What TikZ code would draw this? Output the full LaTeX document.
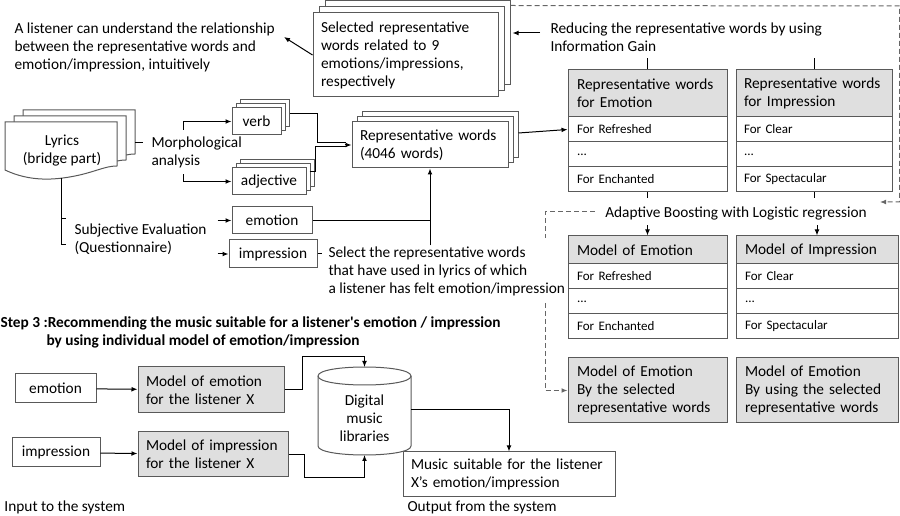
\documentclass[tikz,border=0pt]{standalone}
\usepackage{fontspec}
\setmainfont{Carlito}
\usetikzlibrary{arrows.meta,shadows,calc}

\tikzset{every picture/.style={line width=0.75pt}}
\tikzset{
  arr/.style={-{Latex[length=4.5pt,width=3.6pt]}},
  dsh/.style={draw=black!60, dash pattern={on 3.75pt off 2.25pt}},
  box/.style={draw=black!65, fill=white, inner sep=0pt, font=\fontsize{11.5}{13.5}\selectfont},
  gbox/.style={box, fill=gray!25, align=left, inner xsep=6.75pt},
  cell/.style={box, align=left, inner xsep=6.75pt, font=\fontsize{9.75}{11}\selectfont, minimum height=18.75pt},
  lbl/.style={inner sep=0.75pt, align=left, font=\fontsize{11.5}{13.5}\selectfont},
  pile/.style={double copy shadow={shadow xshift=#1, shadow yshift=#1}},
}

\begin{document}
\begin{tikzpicture}[x=0.75pt,y=0.75pt,yscale=-1,xscale=1]
	\path[use as bounding box] (0,0) rectangle (900,516);
	%Shape: Document stack (lyrics)
	\foreach \dx/\dy in {18/-12, 9/-6, 0/0}
		\draw[draw=black!65, fill=white, shift={(\dx,\dy)}] (5,122) -- (117,122) -- (117,166) .. controls (105,166) and (95,172) .. (75,176) .. controls (55,180) and (30,182) .. (5,170) -- cycle;
	% Text Node
	\node[lbl, align=center] (lyrics) at (62,151) {Lyrics\\(bridge part)};
	\node[lbl, anchor=west] (morph) at (150,152) {Morphological\\analysis};
	\node[lbl, anchor=west] (subj) at (73,239) {Subjective Evaluation\\(Questionnaire)};
	\node[lbl, anchor=west] (understand) at (13,47.5) {A listener can understand the relationship\\between the representative words and\\emotion/impression, intuitively};
	\node[lbl, anchor=west] (reduce) at (549,37) {Reducing the representative words by using\\Information Gain};
	\node[lbl, anchor=west] (select) at (327,271.5) {Select the representative words\\that have used in lyrics of which\\a listener has felt emotion/impression};
	\node[lbl] (boost) at (736,213) {Adaptive Boosting with Logistic regression};

	%Shape: Rectangle stacks
	\node[box, align=left, inner xsep=6pt, text width=126.75pt, minimum height=63pt, pile=4.5pt] (sel) at (405.5,55) {Selected representative\\words related to 9\\emotions/impressions,\\respectively};
	\node[box, align=left, inner xsep=6pt, text width=105pt, minimum height=34.5pt, pile=3.75pt] (rep) at (430,145) {Representative words\\(4046 words)};
	\node[box, minimum width=36.75pt, minimum height=20.25pt, pile=3pt] (verb) at (256.5,121.5) {verb};
	\node[box, minimum width=55.5pt, minimum height=20.25pt, pile=3pt] (adj) at (269,181.5) {adjective};
	%Shape: Rectangle
	\node[box, minimum width=60pt, minimum height=20.25pt] (emo) at (272,220.5) {emotion};
	\node[box, minimum width=66pt, minimum height=21pt] (imp) at (273,254) {impression};

	%Shape: Tables
	\node[gbox, text width=105.75pt, minimum height=35.25pt] (repEH) at (647.5,93.5) {Representative words\\for Emotion};
	\node[cell, text width=105.75pt] (repE1) at (647.5,129.5) {For Refreshed};
	\node[cell, text width=105.75pt] (repE2) at (647.5,154.5) {...};
	\node[cell, text width=105.75pt] (repE3) at (647.5,179.5) {For Enchanted};
	\node[gbox, inner xsep=6pt, text width=105pt, minimum height=35.25pt] (repIH) at (814,93.5) {Representative words\\for Impression};
	\node[cell, inner xsep=6pt, text width=105pt] (repI1) at (814,129.5) {For Clear};
	\node[cell, inner xsep=6pt, text width=105pt] (repI2) at (814,154.5) {...};
	\node[cell, inner xsep=6pt, text width=105pt] (repI3) at (814,179.5) {For Spectacular};

	\node[gbox, text width=105.75pt, minimum height=21pt] (modEH) at (647.5,250) {Model of Emotion};
	\node[cell, text width=105.75pt] (modE1) at (647.5,276.5) {For Refreshed};
	\node[cell, text width=105.75pt] (modE2) at (647.5,301.5) {...};
	\node[cell, text width=105.75pt] (modE3) at (647.5,326.5) {For Enchanted};
	\node[gbox, text width=108pt, minimum height=21pt] (modIH) at (817,250) {Model of Impression};
	\node[cell, text width=108pt] (modI1) at (817,276.5) {For Clear};
	\node[cell, text width=108pt] (modI2) at (817,301.5) {...};
	\node[cell, text width=108pt] (modI3) at (817,326.5) {For Spectacular};

	\node[gbox, text width=105.75pt, minimum height=48.75pt] (selE) at (647.5,390.5) {Model of Emotion\\By the selected\\representative words};
	\node[gbox, text width=108pt, minimum height=48.75pt] (selI) at (817,390.5) {Model of Emotion\\By using the selected\\representative words};

	% Step 3
	\node[lbl, anchor=west, font=\fontsize{11.5}{13}\selectfont\bfseries] (step3a) at (-1,323) {Step 3 :Recommending the music suitable for a listener\textquotesingle s emotion / impression};
	\node[lbl, anchor=west, font=\fontsize{11.5}{13}\selectfont\bfseries] (step3b) at (45,341) {by using individual model of emotion/impression};

	\node[box, minimum width=60.75pt, minimum height=21.75pt] (emoIn) at (55.5,388.5) {emotion};
	\node[box, minimum width=66pt, minimum height=21.75pt] (impIn) at (56,452.5) {impression};
	\node[gbox, inner xsep=6pt, text width=97.5pt, minimum height=34.5pt] (emoX) at (211,390) {Model of emotion\\for the listener X};
	\node[gbox, inner xsep=6pt, text width=100.5pt, minimum height=33.75pt] (impX) at (213,454.5) {Model of impression\\for the listener X};
	\node[box, align=left, inner xsep=6pt, text width=147pt, minimum height=33.75pt] (music) at (509,474.5) {Music suitable for the listener\\X’s emotion/impression};
	%Shape: Can
	\draw[draw=black!65, fill=white] (318,376) -- (318,446) .. controls (318,458) and (411,458) .. (411,446) -- (411,376);
	\draw[draw=black!65] (318,376) .. controls (318,364) and (411,364) .. (411,376) .. controls (411,388) and (318,388) .. (318,376);
	\node[lbl, align=center] (lib) at (364.5,418) {Digital\\music\\libraries};
	\coordinate (libTop) at (364.5,367);
	\coordinate (libBot) at (364.5,455);
	\coordinate (libR) at (411,410);
	\node[lbl, anchor=west] (input) at (3,507) {Input to the system};
	\node[lbl, anchor=west] (output) at (406,507) {Output from the system};

	%Straight Lines
	\coordinate (understandTip) at (284,37);
	\draw[arr] (sel.west) -- (understandTip);
	\coordinate (dashR) at (899.5,6);
	\coordinate (boostIn) at (880,202);
	\draw[dsh, arr] ($(sel.north east)+(12,-7)$) -- (dashR) |- (boostIn);
	\draw[arr] ($(reduce.west)+(-9,-4)$) -- ($(sel.east)+(14,-22)$);
	\draw (repEH.north) -- ++(0,-11);
	\draw (repIH.north) -- ++(0,-11);
	\draw (repE3.south) -- ++(0,6);
	\draw (repI3.south) -- ++(0,6);
	\draw[arr] ($(modEH.north)+(0,-10)$) -- (modEH.north);
	\draw[arr] ($(modIH.north)+(0,-10)$) -- (modIH.north);
	\draw[arr] ($(rep.east)+(10,-12)$) -- (repE1.west);

	\draw ($(verb.east)+(8,-8)$) -| ($(rep.west)+(-34,-2)$) -- ($(rep.west)+(-6,-2)$);
	\draw ($(adj.east)+(3,-10)$) -| ($(rep.west)+(-36,2)$) -- ($(rep.west)+(-6,2)$);
	\draw[arr] ($(rep.west)+(-7,0)$) -- (rep.west);
	\draw[arr] ($(morph.north west)+(33,-5)$) |- (verb.west);
	\draw[arr] ($(morph.south west)+(33,5)$) |- (adj.west);
	\coordinate (lyrR) at (135,143);
	\draw (lyrR) -- ++(8,0);
	\coordinate (lyrB) at (61,178);
	\draw (lyrB) |- ($(subj.west)+(-7,6)$);
	\draw ($(lyrB)+(0,41)$) -- ++(5,0);
	\draw[arr] ($(emo.west)+(-14,0)$) -- (emo.west);
	\draw[arr] ($(imp.west)+(-11,0)$) -- (imp.west);
	\draw (emo.east) -- (emo.east -| rep.south);
	\draw[arr] (rep.south |- select.north) -- (rep.south);
	\draw (imp.east) -- ++(4,0);

	\coordinate (dashA) at (545,238);
	\coordinate (dashB) at (545,303);
	\draw[dsh] ($(boost.west)+(-9,-1)$) -| (dashA);
	\draw[dsh, arr] (dashB) |- (selE.west);

	\draw[arr] (emoIn) -- (emoX);
	\draw[arr] (impIn) -- (impX);
	\coordinate (bendA) at (302,357);
	\draw[arr] (emoX.east) -| (bendA) -| (libTop);
	\coordinate (bendB) at (304,478);
	\draw[arr] (impX.east) -| (bendB) -| (libBot);
	\draw[arr] (libR) -| (music.north);
\end{tikzpicture}
\end{document}
